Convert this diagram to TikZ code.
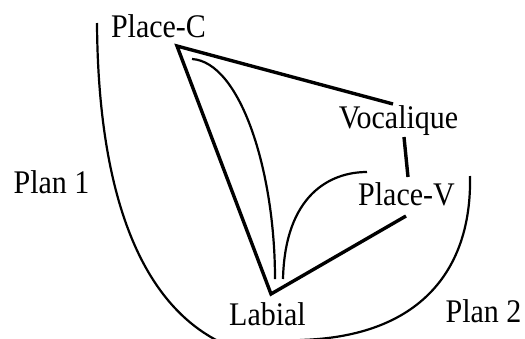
\documentclass[tikz,border=0pt]{standalone}
\usepackage{fontspec}
\setmainfont{Liberation Serif}
\newcommand{\tallt}[1]{\scalebox{1}[1.1]{#1}}
\begin{document}
\begin{tikzpicture}[x=1pt,y=-1pt,
  lbl/.style={inner sep=0pt,anchor=base,font=\fontsize{30}{32}\selectfont},
  thick3/.style={line width=3.4pt,line join=miter},
  thin2/.style={line width=2.2pt}]
\useasboundingbox (0,0) rectangle (525,338);
\clip (0,0) rectangle (525,338);
% labels
\node[lbl] (plc) at (158.5,37) {\tallt{Place-C}};
\node[lbl] (voc) at (398.5,128) {\tallt{Vocalique}};
\node[lbl] (plv) at (406.5,205) {\tallt{Place-V}};
\node[lbl] (lab) at (267.5,325) {\tallt{Labial}};
\node[lbl] (p1) at (51.5,193) {\tallt{Plan 1}};
\node[lbl] (p2) at (483.5,322) {\tallt{Plan 2}};
% connector end points
\coordinate (C) at (177,46);
\coordinate (Vin) at (393,104);
\coordinate (Vout) at (404,137);
\coordinate (PVin) at (408,177);
\coordinate (PVout) at (406,216);
\coordinate (L) at (271,294);
% thick connectors
\draw[thick3] (Vin) -- (C) -- (L) -- (PVout);
\draw[thick3] (Vout) -- (PVin);
% thin curves
\coordinate (c1s) at (192,59);
\coordinate (c1e) at (275,279);
\draw[thin2] (c1s) .. controls (240,62) and (275,170) .. (c1e);
\coordinate (c2s) at (283,279);
\coordinate (c2e) at (367,172);
\draw[thin2] (c2s) .. controls (285,195) and (330,172) .. (c2e);
% plan arcs
\coordinate (a1s) at (97,23);
\coordinate (a1e) at (218,341);
\draw[thin2] (a1s) .. controls (98,182) and (135,298) .. (a1e);
\coordinate (a2s) at (470,176);
\coordinate (a2e) at (300,340);
\draw[thin2] (a2s) .. controls (472,270) and (420,337) .. (a2e);
\end{tikzpicture}
\end{document}
